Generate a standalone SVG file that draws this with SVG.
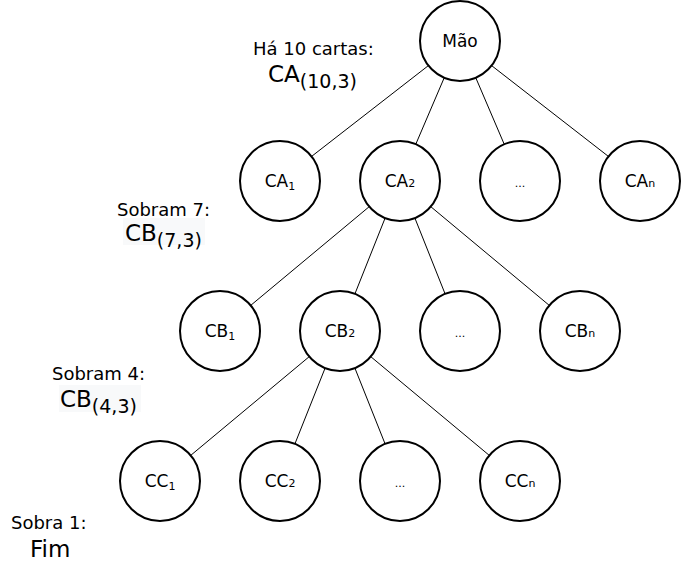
<svg xmlns="http://www.w3.org/2000/svg" width="682" height="572" viewBox="0 0 682 572">
<style>
.n circle{fill:#fff;stroke:#000;stroke-width:2}
.n text{font-family:"DejaVu Sans",Verdana,sans-serif;font-size:17px;text-anchor:middle;fill:#000}
.sub{font-size:11px}
.lbl{font-family:"DejaVu Sans",Verdana,sans-serif;font-size:18px;fill:#000}
.big{font-family:"DejaVu Sans",Verdana,sans-serif;font-size:23px;fill:#000}
.bsub{font-size:19px}
#edges line{stroke:#000;stroke-width:1}
</style>
<rect width="682" height="572" fill="#fff"/>
<rect x="123" y="218" width="82" height="27" fill="#f8f9fa"/>
<rect x="59" y="385" width="82" height="27" fill="#f8f9fa"/>
<g id="edges">
<line x1="428.4" y1="65.6" x2="311.6" y2="156.4"/>
<line x1="444.2" y1="77.8" x2="415.8" y2="144.2"/>
<line x1="475.8" y1="77.8" x2="504.2" y2="144.2"/>
<line x1="491.6" y1="65.6" x2="608.4" y2="156.4"/>
<line x1="369.3" y1="206.6" x2="250.7" y2="305.4"/>
<line x1="385.1" y1="218.1" x2="354.9" y2="293.9"/>
<line x1="414.9" y1="218.1" x2="445.1" y2="293.9"/>
<line x1="430.7" y1="206.6" x2="549.3" y2="305.4"/>
<line x1="309.3" y1="356.6" x2="190.7" y2="455.4"/>
<line x1="325.1" y1="368.1" x2="294.9" y2="443.9"/>
<line x1="354.9" y1="368.1" x2="385.1" y2="443.9"/>
<line x1="370.7" y1="356.6" x2="489.3" y2="455.4"/>
</g>
<g id="mao" class="n"><circle cx="460" cy="41" r="40"/><text x="460" y="47">Mão</text></g>
<g id="ca1" class="n"><circle cx="280" cy="181" r="40"/><text x="280" y="187">CA<tspan class="sub" dy="3">1</tspan></text></g>
<g id="ca2" class="n"><circle cx="400" cy="181" r="40"/><text x="400" y="187">CA<tspan class="sub">2</tspan></text></g>
<g id="ca-dots" class="n"><circle cx="520" cy="181" r="40"/><text x="520" y="187" class="sub" style="font-size:11px">...</text></g>
<g id="can" class="n"><circle cx="640" cy="181" r="40"/><text x="640" y="187">CA<tspan class="sub">n</tspan></text></g>
<g id="cb1" class="n"><circle cx="220" cy="331" r="40"/><text x="220" y="337">CB<tspan class="sub" dy="3">1</tspan></text></g>
<g id="cb2" class="n"><circle cx="340" cy="331" r="40"/><text x="340" y="337">CB<tspan class="sub">2</tspan></text></g>
<g id="cb-dots" class="n"><circle cx="460" cy="331" r="40"/><text x="460" y="337" style="font-size:11px">...</text></g>
<g id="cbn" class="n"><circle cx="580" cy="331" r="40"/><text x="580" y="337">CB<tspan class="sub">n</tspan></text></g>
<g id="cc1" class="n"><circle cx="160" cy="481" r="40"/><text x="160" y="487">CC<tspan class="sub" dy="3">1</tspan></text></g>
<g id="cc2" class="n"><circle cx="280" cy="481" r="40"/><text x="280" y="487">CC<tspan class="sub">2</tspan></text></g>
<g id="cc-dots" class="n"><circle cx="400" cy="481" r="40"/><text x="400" y="487" style="font-size:11px">...</text></g>
<g id="ccn" class="n"><circle cx="520" cy="481" r="40"/><text x="520" y="487">CC<tspan class="sub">n</tspan></text></g>
<g id="labels">
<text class="lbl" x="253" y="55">Há 10 cartas:</text>
<text class="big" x="268" y="82">CA<tspan class="bsub" dy="6">(10,3)</tspan></text>
<text class="lbl" x="117" y="216">Sobram 7:</text>
<text class="big" x="125" y="241">CB<tspan class="bsub" dy="6">(7,3)</tspan></text>
<text class="lbl" x="52" y="380">Sobram 4:</text>
<text class="big" x="60" y="407">CB<tspan class="bsub" dy="6">(4,3)</tspan></text>
<text class="lbl" x="11" y="529">Sobra 1:</text>
<text class="big" x="30" y="557">Fim</text>
</g>
</svg>
